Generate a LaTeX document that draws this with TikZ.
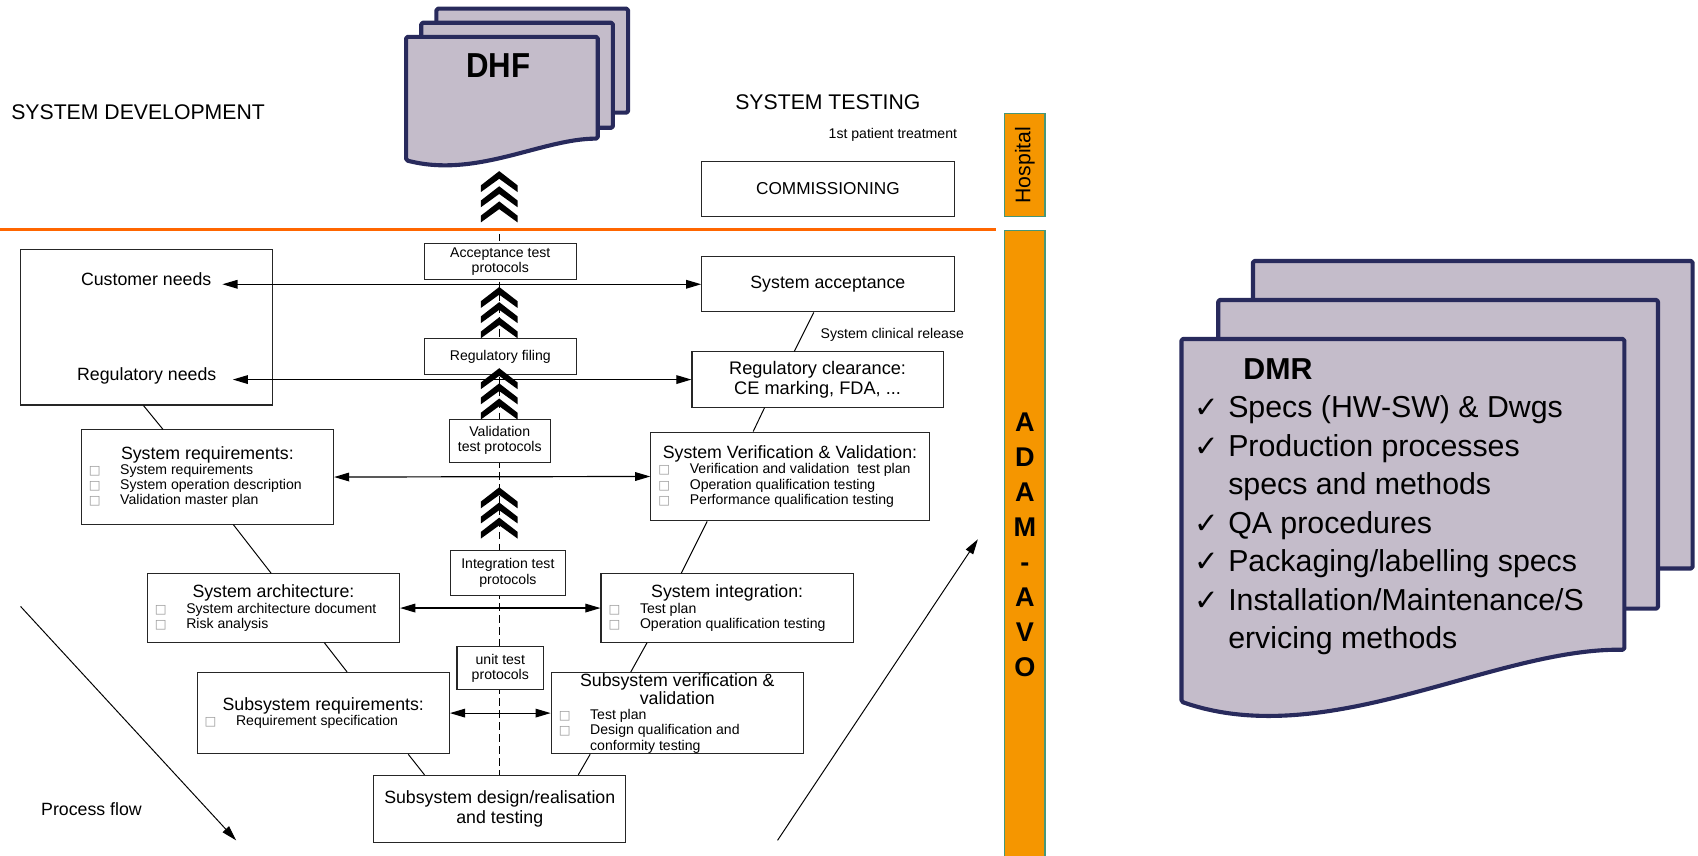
\documentclass[tikz,border=0pt]{standalone}
\usepackage{fontspec}
\setmainfont{Liberation Sans}
\newfontfamily\symfont{DejaVu Sans}
\usepackage{xcolor}
\usepackage{tikz}
\usetikzlibrary{arrows.meta,positioning,calc}

\definecolor{docfill}{RGB}{196,188,202}
\definecolor{docline}{RGB}{40,42,92}
\definecolor{bandfill}{RGB}{245,150,0}
\definecolor{bandline}{RGB}{70,150,120}
\definecolor{rulecol}{RGB}{255,102,0}

\newcommand{\fs}[2]{\fontsize{#1}{#2}\selectfont}
\newcommand{\sqmark}{{\symfont\fs{11.5}{11.5}\textcolor{black!40}{\char"25A1}}}
\newcommand{\itm}[1]{\hspace*{7pt}\makebox[29pt][l]{\sqmark}#1}
\newcommand{\tickmark}{\makebox[31pt][l]{\symfont\fs{27}{27}\char"2713}}
\newcommand{\phasetext}[3]{\parbox{#1}{\centering\fs{16.4}{17}#2\par
  \raggedright\fs{13}{14}#3\par}}

\tikzset{phase/.style={
  % The shape:
  rectangle,
  % The border:
  draw=black!85, line width=1pt,
  % The filling:
  fill=white,
  inner sep=0pt,
  }
}
\tikzset{protocol/.style={
  % The shape:
  rectangle,
  % The border:
  draw=black!85, line width=1pt,
  % The filling:
  fill=white,
  % Font:
  align=center, inner sep=0pt,
  font=\fs{13}{14},
  }
}
\tikzset{sheet/.style={
  % The border:
  draw=docline, line width=3.8pt, line join=round, rounded corners=1.5pt,
  % The filling:
  fill=docfill,
  }
}
\tikzset{band/.style={
  % The shape:
  rectangle, inner sep=0pt,
  % The rest
  draw=bandline, line width=1pt, fill=bandfill,
  }
}

\begin{document}
\begin{tikzpicture}[x=1pt, y=-1pt,
    twoway/.style={{Triangle[length=14pt,width=8pt]}-{Triangle[length=14pt,width=8pt]},
      line width=1.1pt},
    flow/.style={-{Triangle[length=14pt,width=8pt]}, line width=0.9pt},
    vline/.style={line width=0.9pt},
    tag/.style={anchor=base, inner sep=0pt}]
  \useasboundingbox (0,0) rectangle (1568,790);

  % Headings:
  \node (sysdev)   [tag, font=\fs{19.6}{20}] at (127.5,110) {SYSTEM DEVELOPMENT};
  \node (systest)  [tag, font=\fs{19.6}{20}] at (764.5,101) {SYSTEM TESTING};
  \node (firstpat) [tag, font=\fs{13}{14}]   at (824.5,127.7) {1st patient treatment};
  \node (clinrel)  [tag, font=\fs{13}{14}]   at (824,312.7) {System clinical release};
  \node (flowtxt)  [tag, font=\fs{16.4}{17}] at (84.5,753) {Process flow};

  % Hospital / company line:
  \draw[rulecol, line width=3pt] (0,212) -- (920,212);
  \coordinate (dtop) at (461,216);

  % Left branch:
  \node (needs)   [phase, minimum width=233pt, minimum height=144pt] at (135.5,302) {};
  \node (custtxt) [tag, inner xsep=10pt, font=\fs{16.4}{17}] at (135,264) {Customer needs};
  \node (regtxt)  [tag, inner xsep=15pt, font=\fs{16.4}{17}] at (135.5,351) {Regulatory needs};
  \node (sysreq)  [phase, minimum width=233pt, minimum height=87pt] at (191.5,440.5)
    {\phasetext{233pt}{System requirements:}{\itm{System requirements}\\
      \itm{System operation description}\\\itm{Validation master plan}}};
  \node (sysarch) [phase, minimum width=233pt, minimum height=63pt] at (252.5,561.5)
    {\phasetext{233pt}{System architecture:}{\itm{System architecture document}\\
      \itm{Risk analysis}}};
  \node (subreq)  [phase, minimum width=233pt, minimum height=75pt] at (298.5,658.5)
    {\phasetext{233pt}{Subsystem requirements:}{\itm{Requirement specification}}};

  % Bottom:
  \draw[dashed, dash pattern=on 7pt off 4pt, line width=0.9pt] (dtop) -- (dtop |- 0,716);
  \node (design)  [phase, align=center, minimum width=233pt, minimum height=62pt,
    font=\fs{16.4}{18}] at (461.5,747) {Subsystem design/realisation\\and testing};

  % Right branch:
  \node (comm)    [phase, minimum width=233pt, minimum height=51pt, font=\fs{15.9}{17}]
    at (764.5,174.5) {COMMISSIONING};
  \node (sysacc)  [phase, minimum width=233pt, minimum height=51pt, font=\fs{16.4}{18}]
    at (764.5,262.5) {System acceptance};
  \node (regclr)  [phase, align=center, minimum width=232pt, minimum height=51pt,
    font=\fs{16.8}{18}] at (755,350.5) {Regulatory clearance:\\CE marking, FDA, ...};
  \node (sysvv)   [phase, minimum width=257pt, minimum height=82pt] at (729.5,440)
    {\phasetext{257pt}{System Verification \& Validation:}{\itm{Verification and validation\ \ test plan}\\
      \itm{Operation qualification testing}\\\itm{Performance qualification testing}}};
  \node (sysint)  [phase, minimum width=233pt, minimum height=63pt] at (671.5,561.5)
    {\phasetext{233pt}{System integration:}{\itm{Test plan}\\
      \itm{Operation qualification testing}}};
  \node (subvv)   [phase, minimum width=233pt, minimum height=75pt] at (625.5,658.5)
    {\phasetext{233pt}{Subsystem verification \&\\validation}{\itm{Test plan}\\
      \itm{Design qualification and}\\\hspace*{36pt}conformity testing}};

  % Test protocols:
  \node (accprot)  [protocol, minimum width=140pt, minimum height=33pt] at (462,241.5)
    {Acceptance test\\protocols};
  \node (regfil)   [protocol, minimum width=140pt, minimum height=33pt] at (462,329.5)
    {Regulatory filing};
  \node (valprot)  [protocol, minimum width=93pt, minimum height=40pt] at (461.5,407)
    {Validation\\test protocols};
  \node (intprot)  [protocol, minimum width=106pt, minimum height=42pt] at (469,529)
    {Integration test\\protocols};
  \node (unitprot) [protocol, minimum width=80pt, minimum height=40pt] at (462,617)
    {unit test\\protocols};

  % The V:
  \draw[vline] ([xshift=-3pt]needs.south)    -- ([xshift=-41pt]sysreq.north);
  \draw[vline] ([xshift=24pt]sysreq.south)   -- ([xshift=-2pt]sysarch.north);
  \draw[vline] ([xshift=47pt]sysarch.south)  -- ([xshift=22pt]subreq.north);
  \draw[vline] ([xshift=78.5pt]subreq.south) -- ([xshift=-69.5pt]design.north);
  \draw[vline] ([xshift=72.5pt]design.north) -- ([xshift=-80.5pt]subvv.south);
  \draw[vline] ([xshift=-43pt]subvv.north)   -- ([xshift=-74pt]sysint.south);
  \draw[vline] ([xshift=-42.5pt]sysint.north) -- ([xshift=-76.5pt]sysvv.south);
  \draw[vline] ([xshift=-34pt]sysvv.north)   -- ([xshift=-49pt]regclr.south);
  \draw[vline] ([xshift=-21.5pt]regclr.north) -- ([xshift=-13pt]sysacc.south);

  % Links between the branches:
  \draw[twoway] (custtxt.east |- sysacc.west) -- (sysacc.west);
  \draw[twoway] (regtxt.east |- regclr.west) -- (regclr.west);
  \draw[twoway] (sysreq.east) -- (sysvv.west);
  \draw[twoway] (sysarch.east) -- (sysint.west);
  \draw[twoway] (subreq.east) -- (subvv.west);

  % Chevrons:
  \foreach \ytop in {158,265,340,450}
    \foreach \k in {0,1,2}
      \fill (461,{\ytop+14*\k}) -- ++(17,13.2) -- ++(0,6.2) -- ++(-17,-12.3)
        -- ++(-17,12.3) -- ++(0,-6.2) -- cycle;

  % Process flow:
  \coordinate (pfa) at (19,560);
  \coordinate (pfb) at (218,776);
  \coordinate (pfc) at (718,776);
  \coordinate (pfd) at (903,498);
  \draw[flow] (pfa) -- (pfb);
  \draw[flow] (pfc) -- (pfd);

  % DHF:
  \draw[sheet] (403,8) rectangle (580,104);
  \draw[sheet] (389,21) rectangle (566,118);
  \draw[sheet] (375,34) -- (552,34) -- (552,128)
    .. controls (500,128) and (440,165) .. (375,148) -- cycle;
  \node (dhftxt) [tag, font=\fs{32}{34}] at (460,72) {\scalebox{0.9}[1]{\bfseries DHF}};

  % Side bands:
  \node (hosp) [band, rotate=90, minimum width=95pt, minimum height=37pt,
    font=\fs{19.6}{20}] at (946.5,152.5) {Hospital};
  \node (adam) [band, minimum width=37pt, minimum height=580pt, align=center,
    font=\fs{25}{32.3}\bfseries] at (946.5,503) {A\\D\\A\\M\\-\\A\\V\\O};

  % DMR:
  \draw[sheet] (1157,241) rectangle (1563,525);
  \draw[sheet] (1125,277) rectangle (1531,562);
  \draw[sheet] (1091,313) -- (1500,313) -- (1500,600)
    .. controls (1380,598) and (1225,695) .. (1091,648) -- cycle;
  \node (dmrtxt) [anchor=north west, inner sep=0pt, align=left, font=\fs{28}{35.5}]
    at (1103,331)
    {\hspace*{45pt}\textbf{DMR}\\
     \tickmark Specs (HW-SW) \& Dwgs\\
     \tickmark Production processes\\
     \hspace*{31pt}specs and methods\\
     \tickmark QA procedures\\
     \tickmark Packaging/labelling specs\\
     \tickmark Installation/Maintenance/S\\
     \hspace*{31pt}ervicing methods};
\end{tikzpicture}
\end{document}
